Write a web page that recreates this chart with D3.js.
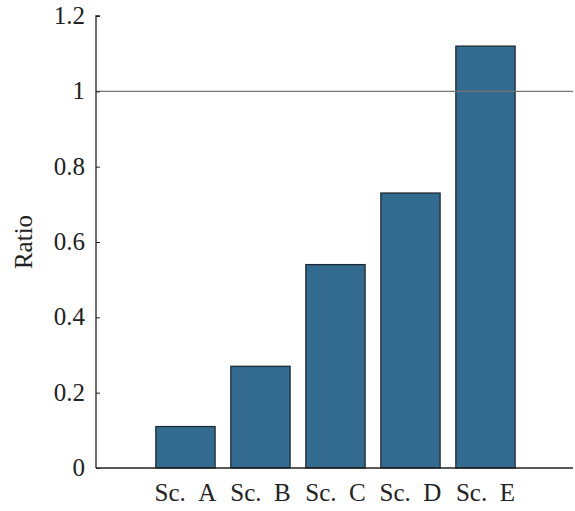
<!DOCTYPE html>
<html>
<head>
<meta charset="utf-8">
<script src="https://cdn.jsdelivr.net/npm/d3@7"></script>
<style>
  html, body { margin: 0; padding: 0; background: #fff; }
</style>
</head>
<body>
<svg id="chart" width="575" height="511"></svg>
<script>
// Scenario ratios
const categories = ["Sc.\u2002A", "Sc.\u2002B", "Sc.\u2002C", "Sc.\u2002D", "Sc.\u2002E"];
const ratios = [0.11, 0.27, 0.54, 0.73, 1.12];
const yTicks = [0, 0.2, 0.4, 0.6, 0.8, 1, 1.2];
const referenceLevel = 1;

const serif = "'Liberation Serif', 'Times New Roman', serif";
const fontSize = 25;

const svg = d3.select("#chart");
const plotLeft = 96, plotRight = 573, plotTop = 16, plotBottom = 468;

// Bars sit at integer positions; the axis extends beyond the last bar
const x = d3.scaleLinear().domain([-1.193, 5.167]).range([plotLeft, plotRight]);
const y = d3.scaleLinear().domain([0, 1.2]).range([plotBottom, plotTop]);
const barWidth = 0.79;

// Bars
svg.append("g").selectAll("rect")
  .data(ratios)
  .join("rect")
  .attr("x", (d, i) => x(i - barWidth / 2))
  .attr("width", (d, i) => x(i + barWidth / 2) - x(i - barWidth / 2))
  .attr("y", d => y(d))
  .attr("height", d => y(0) - y(d))
  .attr("fill", "#336a8f")
  .attr("stroke", "#1e2a33")
  .attr("stroke-width", 1.3);

// Reference line at ratio = 1
svg.append("line")
  .attr("x1", plotLeft).attr("x2", plotRight)
  .attr("y1", y(referenceLevel)).attr("y2", y(referenceLevel))
  .attr("stroke", "#777").attr("stroke-width", 1.3);

// Y axis with inward ticks
const yAxis = d3.axisRight(y)
  .tickValues(yTicks)
  .tickSize(4)
  .tickFormat(d => d3.format("")(d));
const gy = svg.append("g").attr("transform", `translate(${plotLeft},0)`).call(yAxis);
gy.attr("font-family", null).attr("font-size", null);
gy.select(".domain").attr("stroke", "#222").attr("stroke-width", 1.3).attr("d", `M4,${plotTop}H0V${plotBottom}`);
gy.selectAll(".tick line").attr("stroke", "#222").attr("stroke-width", 1);
gy.selectAll(".tick text")
  .attr("x", -11)
  .attr("text-anchor", "end")
  .attr("dy", "0.3em")
  .style("font-family", serif)
  .style("font-size", fontSize + "px")
  .attr("fill", "#222");

// X axis line
svg.append("line")
  .attr("x1", plotLeft).attr("x2", plotRight)
  .attr("y1", plotBottom).attr("y2", plotBottom)
  .attr("stroke", "#222").attr("stroke-width", 1.3);

// Category labels
svg.append("g").selectAll("text")
  .data(categories)
  .join("text")
  .attr("x", (d, i) => x(i))
  .attr("y", 501)
  .attr("text-anchor", "middle")
  .style("font-family", serif)
  .style("font-size", fontSize + "px")
  .attr("fill", "#222")
  .text(d => d);

// Y axis title
svg.append("text")
  .attr("transform", `translate(32,${(plotTop + plotBottom) / 2}) rotate(-90)`)
  .attr("text-anchor", "middle")
  .style("font-family", serif)
  .style("font-size", fontSize + "px")
  .attr("fill", "#222")
  .text("Ratio");
</script>
</body>
</html>
